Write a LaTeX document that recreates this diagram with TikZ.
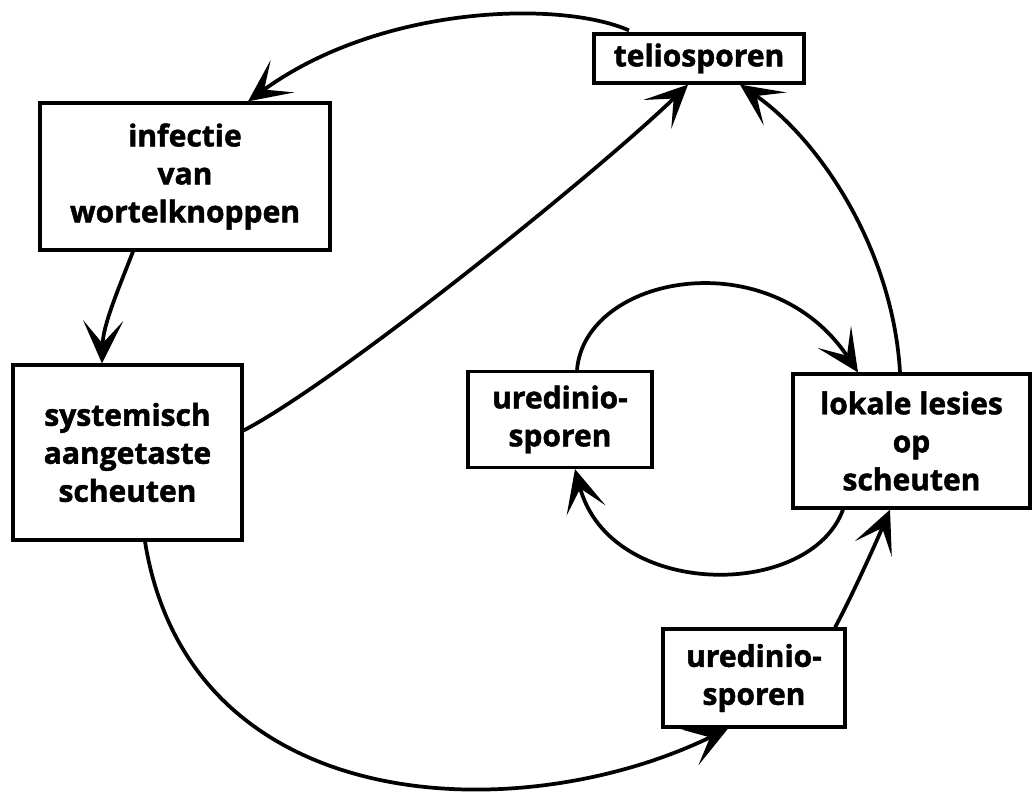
\documentclass[tikz,border=0pt]{standalone}
\usepackage{fontspec}
\setmainfont{Open Sans}[BoldFeatures={FakeBold=1.6}]
\usetikzlibrary{arrows.meta,calc}
\begin{document}
\begin{tikzpicture}[x=0.75pt,y=-0.75pt,
  box/.style={draw,line width=2.4pt,inner sep=0pt,align=center,
    font=\bfseries\fontsize{22.5}{28.5}\selectfont},
  conn/.style={line width=2.8pt,arrows={-Stealth[length=32pt,width=30pt,inset=17pt]}}]
\useasboundingbox (0,0) rectangle (1035,795);
\node[box,minimum width=157.5pt,minimum height=36.75pt] (tel) at (699,58.5) {teliosporen};
\node[box,minimum width=217.5pt,minimum height=110.25pt] (inf) at (185,176.5) {infectie\\van\\wortelknoppen};
\node[box,minimum width=171.75pt,minimum height=131.25pt] (sys) at (127.5,452.5) {systemisch\\aangetaste\\scheuten};
\node[box,minimum width=138pt,minimum height=72pt] (ur1) at (560,419.5) {uredinio-\\sporen};
\node[box,minimum width=177.75pt,minimum height=100.5pt] (lok) at (911.5,441) {lokale lesies\\op\\scheuten};
\node[box,minimum width=136.5pt,minimum height=73.5pt] (ur2) at (754,678) {uredinio-\\sporen};
% teliosporen -> infectie
\draw[conn] ([shift={(-70,-2)}]tel.north) .. controls (560,0) and (380,5) .. ([shift={(63,0)}]inf.north);
% infectie -> systemisch
\draw[conn] ([shift={(-52,0)}]inf.south) .. controls (118,290) and (103,325) .. ([shift={(-25.5,0)}]sys.north);
% systemisch -> teliosporen
\draw[conn] ([shift={(0,-22)}]sys.east) .. controls (340,380) and (600,170) .. ([shift={(-11,0)}]tel.south);
% lokale -> teliosporen
\draw[conn] ([shift={(-11.5,0)}]lok.north) .. controls (893,250) and (820,140) .. ([shift={(41,0)}]tel.south);
% uredinio (top) -> lokale
\draw[conn] ([shift={(17,0)}]ur1.north) .. controls (585,275) and (770,240) .. ([shift={(-53.5,0)}]lok.north);
% lokale -> uredinio (top)
\draw[conn] ([shift={(-68.5,0)}]lok.south) .. controls (810,600) and (610,600) .. ([shift={(15,0)}]ur1.south);
% systemisch -> uredinio (bottom)
\draw[conn] ([shift={(17.5,0)}]sys.south) .. controls (190,820) and (520,830) .. ([shift={(-26,0)}]ur2.south);
% uredinio (bottom) -> lokale
\draw[conn] ([shift={(81,0)}]ur2.north) .. controls (850,600) and (875,545) .. ([shift={(-21.5,0)}]lok.south);
\end{tikzpicture}
\end{document}
